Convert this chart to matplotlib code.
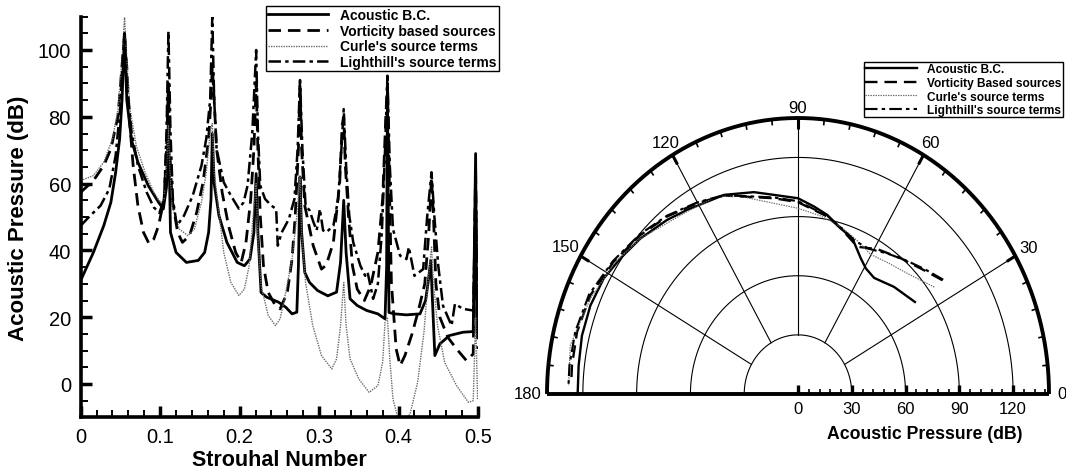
import matplotlib
matplotlib.use('Agg')
import matplotlib.pyplot as plt
from matplotlib.ticker import MultipleLocator
import numpy as np

plt.rcParams['font.family'] = ['Liberation Sans', 'DejaVu Sans']
plt.rcParams['lines.scale_dashes'] = False

# ---------------- Spectrum data (left) ----------------
labels_left = ["Acoustic B.C.", "Vorticity based sources",
               "Curle's source terms", "Lighthill's source terms"]
labels_right = ["Acoustic B.C.", "Vorticity Based sources",
                "Curle's source terms", "Lighthill's source terms"]

st_bc = [0, 0.016, 0.029, 0.038, 0.044, 0.049, 0.052, 0.0552, 0.058, 0.064, 0.072, 0.085, 0.098,
         0.104, 0.108, 0.1104, 0.113, 0.12, 0.133, 0.148, 0.156, 0.161, 0.164, 0.1656, 0.168,
         0.174, 0.184, 0.197, 0.206, 0.213, 0.218, 0.2208, 0.223, 0.227, 0.234, 0.24, 0.249,
         0.258, 0.266, 0.272, 0.274, 0.276, 0.278, 0.282, 0.288, 0.298, 0.311, 0.322, 0.327,
         0.331, 0.334, 0.339, 0.348, 0.36, 0.374, 0.383, 0.385, 0.386, 0.388, 0.395, 0.41,
         0.427, 0.434, 0.437, 0.4405, 0.4457, 0.452, 0.464, 0.481, 0.494, 0.497, 0.4985, 0.5]
db_bc = [31, 39.4, 47.4, 54.4, 63.4, 73.4, 85, 105, 85, 73, 66.4, 59.4, 54.4,
         52.4, 59, 80, 45.4, 39.4, 36.4, 37, 39.4, 45.4, 55.4, 75, 60,
         50.4, 42.4, 36.4, 35.4, 37.4, 45.4, 63, 45.4, 27.4, 26, 25.4, 24.5,
         23, 21, 21.5, 35.4, 62, 45.4, 33.4, 30.4, 28, 26.4, 27.5, 36.4,
         55, 39.4, 25.5, 23.5, 22, 21, 19.5, 35, 88, 21.4, 21, 20.7,
         21, 25, 30, 37, 8.5, 12, 14.5, 15.5, 15.7, 69, 15.5, 15.5]

st_vort = [0, 0.016, 0.029, 0.038, 0.047, 0.052, 0.0552, 0.058, 0.061, 0.066, 0.072, 0.079, 0.086,
           0.092, 0.098, 0.105, 0.108, 0.1104, 0.112, 0.115, 0.122, 0.128, 0.137, 0.146, 0.154,
           0.161, 0.164, 0.1656, 0.168, 0.171, 0.178, 0.186, 0.195, 0.202, 0.208, 0.214, 0.218,
           0.2208, 0.223, 0.226, 0.23, 0.236, 0.245, 0.251, 0.26, 0.266, 0.27, 0.274, 0.276,
           0.278, 0.282, 0.2926, 0.303, 0.309, 0.318, 0.326, 0.329, 0.331, 0.333, 0.337, 0.342,
           0.348, 0.357, 0.365, 0.374, 0.38, 0.384, 0.386, 0.388, 0.391, 0.397, 0.402, 0.408,
           0.417, 0.425, 0.433, 0.438, 0.4415, 0.444, 0.447, 0.452, 0.462, 0.473, 0.4855,
           0.494, 0.497, 0.4995]
db_vort = [57.4, 60.9, 65.4, 70.4, 80.3, 95.3, 105, 95, 80.3, 65.4, 53.4, 45.4, 42,
           43.4, 47.4, 55.4, 70.4, 90, 70.4, 55.4, 45.4, 42.4, 44.4, 51.4, 60.4,
           73.4, 85.3, 95, 85, 70.4, 57.4, 47.4, 39.4, 36.4, 42.4, 55.4, 70.4,
           90, 70, 50.4, 35.4, 27.4, 23.5, 22.5, 27.4, 37.4, 50.4, 70.4, 90,
           70.4, 53.4, 41.4, 34.4, 35.6, 42.4, 60.4, 77.4, 80, 65.4, 50.4, 35.4,
           28.4, 25, 29.4, 39.4, 55.4, 80.3, 90, 65.4, 30.4, 10.5, 5.5, 8.5,
           15, 22, 30, 45, 62, 50, 30, 20, 14, 10.5, 7,
           9, 65, 10.5]

st_curle = [0, 0.016, 0.029, 0.04, 0.047, 0.052, 0.0552, 0.058, 0.062, 0.07, 0.081, 0.092, 0.1,
            0.105, 0.108, 0.1104, 0.112, 0.115, 0.124, 0.135, 0.143, 0.152, 0.158, 0.163, 0.1656,
            0.168, 0.174, 0.18, 0.189, 0.199, 0.206, 0.212, 0.217, 0.2208, 0.223, 0.227, 0.236,
            0.245, 0.251, 0.258, 0.266, 0.272, 0.276, 0.278, 0.283, 0.292, 0.303, 0.316, 0.322,
            0.327, 0.331, 0.334, 0.339, 0.35, 0.363, 0.374, 0.38, 0.383, 0.386, 0.389, 0.393,
            0.4, 0.406, 0.415, 0.424, 0.432, 0.437, 0.4415, 0.444, 0.449, 0.458, 0.473, 0.488,
            0.494, 0.497, 0.4995]
db_curle = [60.9, 62.4, 66.4, 73.4, 82.3, 97.3, 110, 97.3, 82.3, 71.3, 63.4, 57.4, 54.4,
            55.4, 65.4, 77.3, 65.4, 53.4, 46.4, 44.4, 46.4, 54.4, 63.4, 75.4, 78,
            63.4, 51.4, 39.4, 30.4, 26.5, 28.4, 35.4, 50.4, 60, 43.4, 29.4, 20.5,
            17.5, 19.5, 27.4, 37.4, 50.4, 62, 45.4, 30.4, 17.5, 8.5, 4.5, 7.5,
            17.5, 30.4, 17.5, 7.5, 1.5, -2.5, -0.5, 6.5, 18.5, 20, 7.5, -4.5,
            -11, -13, -8.5, 0.5, 15.5, 30.4, 41, 30.4, 17.5, 6.5, -0.5, -5.5,
            -5, 20, -4.5]

st_light = [0, 0.012, 0.025, 0.036, 0.044, 0.05, 0.053, 0.0552, 0.058, 0.064, 0.072, 0.083, 0.092,
            0.099, 0.105, 0.108, 0.1104, 0.113, 0.116, 0.121, 0.13, 0.141, 0.152, 0.158, 0.163,
            0.1656, 0.168, 0.171, 0.18, 0.189, 0.199, 0.205, 0.21, 0.216, 0.2208, 0.223, 0.226,
            0.232, 0.24, 0.246, 0.248, 0.253, 0.262, 0.269, 0.273, 0.276, 0.279, 0.283, 0.288,
            0.293, 0.297, 0.301, 0.305, 0.309, 0.318, 0.324, 0.328, 0.331, 0.334, 0.338, 0.343,
            0.352, 0.358, 0.361, 0.368, 0.374, 0.379, 0.383, 0.386, 0.389, 0.393, 0.402, 0.41,
            0.413, 0.42, 0.431, 0.436, 0.4415, 0.445, 0.45, 0.456, 0.4667, 0.471, 0.481, 0.494,
            0.497, 0.4995]
db_light = [47.4, 50.4, 53.4, 58.4, 68.4, 83.3, 97.3, 105, 90, 75.4, 65.4, 57.4, 52.9,
            51.2, 55.4, 75.4, 105.6, 75.4, 55.4, 47.4, 50.4, 56.4, 65.4, 73.4, 85.3,
            110, 85, 70.4, 60.4, 56.4, 52.5, 54.4, 59.4, 75.4, 100, 75.4, 59.4,
            55.4, 53.4, 52.4, 41.4, 45.4, 49.4, 55.4, 70.4, 91, 70.4, 53.4, 52,
            48.4, 46, 52.4, 46, 45.4, 47.4, 55.4, 70, 82.3, 65.4, 50.4, 42.4,
            35.4, 32.4, 33.5, 25.5, 30, 45.4, 70, 92.3, 65.4, 46.4, 38.4, 37.4,
            41, 32.4, 34.4, 50, 63.4, 50.4, 35.4, 23.4, 17.5, 24, 22.5, 22,
            60, 22.5]

# ---------------- Directivity data (right, polar) ----------------
ang_bc = [35.6, 45.4, 54.2, 59.3, 63, 69, 74.2, 79.8, 84.6, 90, 97.6, 103.5, 112.2, 123.5, 129.6,
          138.1, 145.2, 151.6, 158.8, 166.2, 173.3, 180]
r_bc = [80.2, 76.3, 72.6, 74.1, 77.2, 84.6, 87.3, 92.3, 95.5, 99.3, 101.9, 105.3, 109.1, 112, 114.6,
        118.1, 120.6, 123.2, 124.2, 124.1, 123.2, 122.9]

ang_vort = [35.6, 41.7, 50.2, 58.9, 66.1, 74, 79.7, 90, 97.7, 112.3, 120.1, 129, 137.5, 146.9,
            156.6, 165.7, 173.5, 177.5]
r_vort = [99.1, 94.3, 89.6, 85.8, 81.7, 87.3, 91.5, 97.3, 100.2, 108.8, 111.9, 115.9, 119.3, 122.8,
          126.2, 127.2, 126.9, 126.6]

ang_curle = [35.5, 45, 52.5, 60.2, 67, 74.3, 82, 90, 107.7, 114.2, 123.7, 138, 147, 157.3, 169, 178]
r_curle = [93.4, 86.4, 83.5, 81.6, 84.5, 88.2, 91.2, 94.2, 105.2, 109.9, 111.3, 118, 122, 125.5,
           129.4, 128]

ang_light = [35.6, 41.7, 47.8, 55, 62, 68, 74, 79.7, 90, 97.7, 112.3, 120.1, 129, 137.5, 146.9,
             156.6, 165.7, 173.5, 178]
r_light = [99.6, 95, 91, 87, 83.5, 84, 87.6, 91.8, 97.8, 100.6, 109, 112.3, 116.3, 119.8, 123.3,
           127, 128.2, 128.3, 128.1]

W, H = 1066, 477
fig = plt.figure(figsize=(W / 100, H / 100), dpi=100)

styles = [
    dict(color='black', lw=2.0, ls='-'),
    dict(color='black', lw=2.0, dashes=(9, 5)),
    dict(color='#6a6a6a', lw=1.0, dashes=(1.0, 0.8)),
    dict(color='black', lw=1.8, dashes=(9, 3, 2.5, 3)),
]

# ---------------- Left axes ----------------
ax = fig.add_axes([80.7 / W, 1 - 418.4 / H, 397.3 / W, 400.8 / H])
series_left = [(st_bc, db_bc), (st_vort, db_vort), (st_curle, db_curle), (st_light, db_light)]
handles = []
for (xs, ys), s, lab in zip(series_left, styles, labels_left):
    h, = ax.plot(xs, ys, label=lab, **s)
    handles.append(h)
ax.set_xlim(0, 0.5)
ax.set_ylim(-10, 110)
for side in ['top', 'right']:
    ax.spines[side].set_visible(False)
for side in ['left', 'bottom']:
    ax.spines[side].set_linewidth(2.6)
ax.xaxis.set_major_locator(MultipleLocator(0.1))
ax.xaxis.set_minor_locator(MultipleLocator(0.02))
ax.yaxis.set_major_locator(MultipleLocator(20))
ax.yaxis.set_minor_locator(MultipleLocator(5))
ax.xaxis.set_major_formatter(plt.FuncFormatter(lambda v, p: ('%g' % round(v, 2))))
ax.tick_params(which='major', direction='in', length=8, width=2.5, labelsize=14.5, pad=7)
ax.tick_params(which='minor', direction='in', length=5, width=1.4)
ax.set_xlabel('Strouhal Number', fontsize=15.5, fontweight='bold', labelpad=2)
ax.set_ylabel('Acoustic Pressure (dB)', fontsize=16, fontweight='bold', labelpad=6)

leg = ax.legend(handles=handles, loc='upper right', bbox_to_anchor=(499 / W, 1 - 7 / H),
                bbox_transform=fig.transFigure, prop={'weight': 'bold', 'size': 10},
                frameon=True, fancybox=False, edgecolor='black', framealpha=1,
                handlelength=4.3, handletextpad=0.9, labelspacing=0.12, borderpad=0.15,
                borderaxespad=0)
leg.get_frame().set_linewidth(1.0)

# ---------------- Right axes (half polar, drawn on cartesian frame) ----------------
ax2 = fig.add_axes([547 / W, 1 - 395 / H, 502 / W, 276 / H])
ax2.set_xlim(-140, 140)
ax2.set_ylim(0, 140)
ax2.axis('off')

th = np.linspace(0, np.pi, 400)
for rr in [30, 60, 90, 120]:
    ax2.plot(rr * np.cos(th), rr * np.sin(th), color='black', lw=0.8, clip_on=False)
ax2.plot(140 * np.cos(th), 140 * np.sin(th), color='black', lw=2.8, clip_on=False,
         solid_capstyle='butt')
ax2.plot([-140, 140], [0, 0], color='black', lw=2.8, clip_on=False, solid_capstyle='butt')
for a in [30, 60, 90, 120, 150]:
    c, s_ = np.cos(np.radians(a)), np.sin(np.radians(a))
    ax2.plot([30 * c, 140 * c], [30 * s_, 140 * s_], color='black', lw=0.8)
# ticks on outer arc
for a in range(6, 180, 6):
    c, s_ = np.cos(np.radians(a)), np.sin(np.radians(a))
    ln = 5.5 if a % 30 == 0 else 3.0
    ax2.plot([140 * c, (140 - ln) * c], [140 * s_, (140 - ln) * s_], color='black',
             lw=2.2 if a % 30 == 0 else 1.2, solid_capstyle='butt')
# ticks on radial axis
for v in range(0, 140, 6):
    major = v % 30 == 0
    ax2.plot([v, v], [0, 4.8 if major else 2.4], color='black',
             lw=2.4 if major else 1.2, solid_capstyle='butt')
for v in [0, 30, 60, 90, 120]:
    ax2.text(v, -3.5, str(v), ha='center', va='top', fontsize=12)
ax2.text(70.5, -15.5, 'Acoustic Pressure (dB)', ha='center', va='top', fontsize=12.7,
         fontweight='bold')
ang_labels = [(0, 147.5), (30, 148.4), (60, 147.6), (90, 145.5), (120, 147.6), (150, 149.8),
              (180, 150.6)]
for a, rr in ang_labels:
    ax2.text(rr * np.cos(np.radians(a)), rr * np.sin(np.radians(a)), str(a), ha='center',
             va='center', fontsize=12, clip_on=False)

series_right = [(ang_bc, r_bc), (ang_vort, r_vort), (ang_curle, r_curle), (ang_light, r_light)]
handles2 = []
for (angs, rs), s in zip(series_right, styles):
    a_ = np.radians(np.array(angs))
    r_ = np.array(rs)
    s2 = dict(s)
    s2['lw'] = s['lw'] * 0.85
    h, = ax2.plot(r_ * np.cos(a_), r_ * np.sin(a_), clip_on=False, **s2)
    handles2.append(h)

leg2 = ax2.legend(handles=handles2, labels=labels_right, loc='upper right',
                  bbox_to_anchor=(1063 / W, 1 - 63 / H), bbox_transform=fig.transFigure,
                  prop={'weight': 'bold', 'size': 8.6}, frameon=True, fancybox=False,
                  edgecolor='black', framealpha=1, handlelength=4.3, handletextpad=0.9,
                  labelspacing=0.14, borderpad=0.1, borderaxespad=0)
leg2.get_frame().set_linewidth(1.0)

fig.savefig('out.png', dpi=100)
